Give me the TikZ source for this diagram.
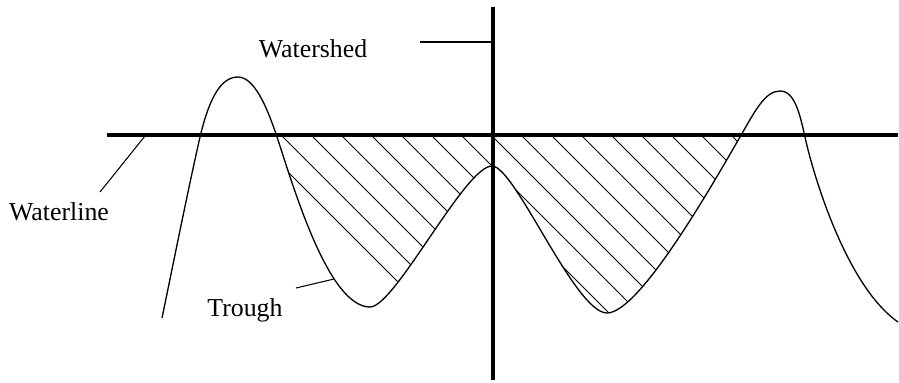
\documentclass[tikz,border=0pt]{standalone}
\usepackage{fontspec}
\setmainfont{Liberation Serif}

\begin{document}
\begin{tikzpicture}[
  x=0.02cm, y=-0.02cm,
  waterline/.style={line width=2.2pt},
  divide/.style={line width=2pt},
  relief/.style={line width=0.75pt, line join=round},
  hatchline/.style={line width=0.5pt},
  leader/.style={line width=0.6pt},
  tag/.style={inner sep=0pt, anchor=base, font=\fontsize{14.7pt}{17pt}\selectfont}
]
\useasboundingbox (0,0) rectangle (899,382);

% surface profile
\def\profile{(162,318) .. controls (175,255) and (188,190) .. (200,137)
  .. controls (210,95) and (222,77) .. (238,77)
  .. controls (255,77) and (268,110) .. (277,137)
  .. controls (293,185) and (328,307) .. (370,307)
  .. controls (395,307) and (465,166) .. (492,166)
  .. controls (515,166) and (575,313) .. (607,313)
  .. controls (640,313) and (715,180) .. (740,137)
  .. controls (755,111) and (765,91) .. (780,91)
  .. controls (795,91) and (800,115) .. (805,137)
  .. controls (812,170) and (845,285) .. (898,322)}

% hatched water between waterline and profile
\begin{scope}
  \clip (240,135) rectangle (775,400);
  \clip \profile -- (898,-10) -- (162,-10) -- cycle;
  \foreach \c in {116,146,...,716}
    \draw[hatchline] (\c+135,135) -- (\c+400,400);
\end{scope}

\draw[relief] \profile;

% waterline and watershed
\coordinate (wl-left) at (107,135);
\coordinate (wl-right) at (898,135);
\coordinate (ws-top) at (493,7);
\coordinate (ws-bottom) at (493,380);
\draw[waterline] (wl-left) -- (wl-right);
\draw[divide] (ws-top) -- (ws-bottom);

% labels
\node[tag] (watershed) at (313,57) {Watershed};
\node[tag] (waterlbl) at (59,220) {Waterline};
\node[tag] (trough) at (245,316) {Trough};

\coordinate (ws-lead) at (420,42);
\coordinate (ws-hit) at (493,42);
\coordinate (wl-lead) at (100,192);
\coordinate (wl-hit) at (145,136);
\coordinate (tr-lead) at (296,288);
\coordinate (tr-hit) at (334,279);
\draw[leader] (ws-lead) -- (ws-hit);
\draw[leader] (wl-lead) -- (wl-hit);
\draw[leader] (tr-lead) -- (tr-hit);
\end{tikzpicture}
\end{document}
